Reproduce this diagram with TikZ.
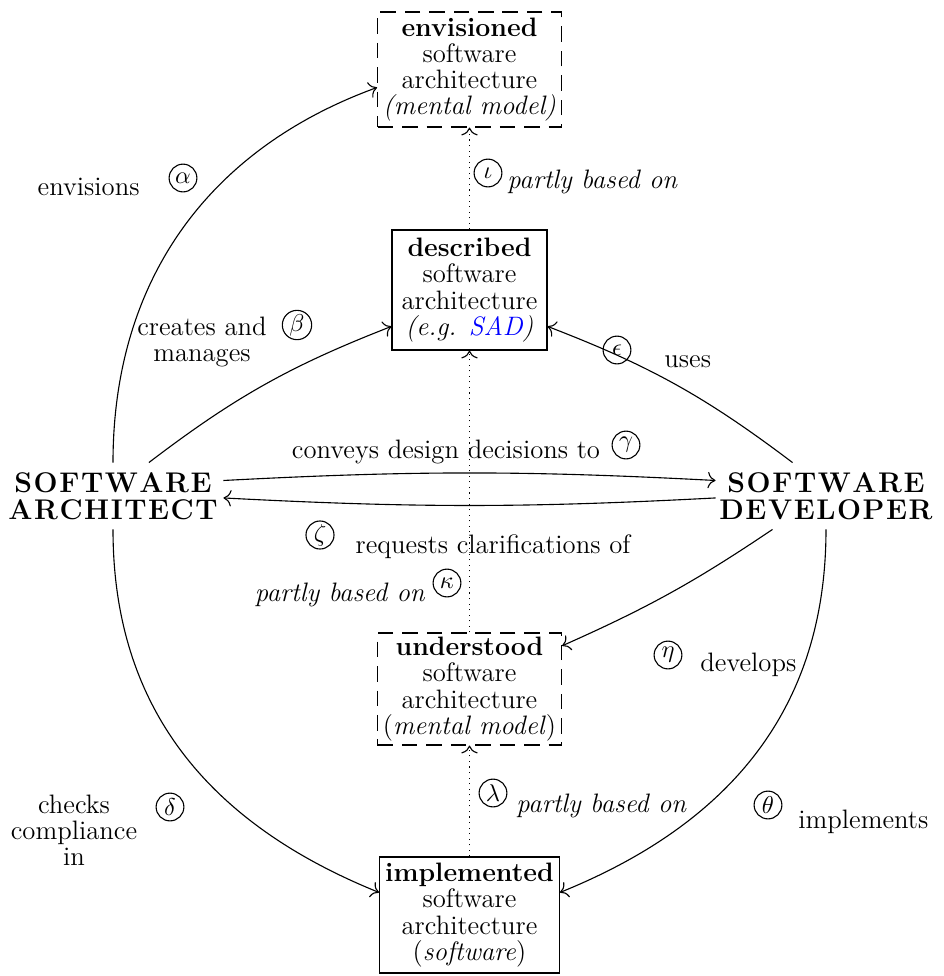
\documentclass[tikz,border=0pt]{standalone}
\usepackage{xcolor}
\usetikzlibrary{arrows.meta}

% letter-spaced capitals for the two roles
\def\lsloop#1{\ifx\relax#1\else\kern0.7pt#1\expandafter\lsloop\fi}
\newcommand\rolename[1]{\kern-0.7pt\lsloop#1\relax}

\begin{document}
\begin{tikzpicture}[x=0.45pt,y=0.45pt,
  >={To[scale=1.3]},
  txt/.style={font=\fontsize{12}{11.8}\selectfont, align=center, inner sep=0pt},
  itxt/.style={txt, font=\fontsize{12}{11.8}\selectfont\itshape},
  role/.style={align=center, font=\fontsize{12.8}{12}\selectfont\bfseries,
    minimum width=99pt, minimum height=29.7pt, inner sep=0pt},
  archbox/.style={txt, draw, inner ysep=1pt, inner xsep=2.5pt, line width=0.5pt},
  mentalbox/.style={archbox, dash pattern=on 7pt off 4pt},
  glyph/.style={circle, draw, inner sep=0.5pt, minimum size=12.5pt,
    font=\fontsize{10.5}{12}\selectfont, line width=0.5pt},
  conn/.style={->, line width=0.5pt},
  dep/.style={->, dotted, line width=0.5pt}]

\useasboundingbox (0,0) rectangle (944,-976);

% the two roles
\node[role] (arch) at (113,-496) {\rolename{SOFTWARE}\\\rolename{ARCHITECT}};
\node[role] (dev)  at (826,-496) {\rolename{SOFTWARE}\\\rolename{DEVELOPER}};

% the four kinds of architecture
\node[mentalbox, minimum width=78.75pt, minimum height=51.75pt] (env) at (469.5,-69.5)
  {\textbf{envisioned}\\software\\architecture\\\textit{(mental model)}};
\node[archbox, minimum width=69.75pt, minimum height=54pt] (desc) at (469.5,-290)
  {\textbf{described}\\software\\architecture\\\textit{(e.g. \textcolor{blue}{SAD})}};
\node[mentalbox, minimum width=80.1pt, minimum height=50.4pt] (und) at (469.5,-689)
  {\textbf{understood}\\software\\architecture\\(\textit{mental model})};
\node[archbox, minimum width=80.1pt, minimum height=52.2pt] (impl) at (469.5,-915)
  {\textbf{implemented}\\software\\architecture\\(\textit{software})};

% relations
\draw[conn] (arch.north) .. controls +(0,181) and +(-170,-62) .. (env.191);
\draw[conn] (arch.south) .. controls +(0,-181) and +(-168,68) .. (impl.166);
\draw[conn] (dev.south) .. controls +(0,-181) and +(168,68) .. (impl.14);
\draw[conn] (arch.43) to[bend left=8] (desc.205);
\draw[conn] (dev.135) to[bend right=8] (desc.335);
\draw[conn] (dev.212) to[bend left=5] (und.25);
\draw[conn] (arch.8) to[bend left=3] (dev.172);
\draw[conn] (dev.181) to[bend left=3] (arch.359);

\draw[dep] (desc.north) -- (env.south);
\draw[dep] (und.north) -- (desc.south);
\draw[dep] (impl.north) -- (und.south);

% labels
\node[txt, anchor=east] (lenv) at (140,-187) {envisions};
\node[glyph] (galpha) at (183,-178) {$\alpha$};
\node[txt] (lcre) at (202,-342) {creates and\\manages};
\node[glyph] (gbeta) at (297,-325) {$\beta$};
\node[txt] (lconv) at (446,-452) {conveys design decisions to};
\node[glyph] (ggamma) at (626,-445) {$\gamma$};
\node[glyph] (gzeta) at (320,-535) {$\zeta$};
\node[txt] (lreq) at (493,-547) {requests clarifications of};
\node[glyph] (geps) at (617,-350) {$\epsilon$};
\node[txt, anchor=west] (luses) at (664,-362) {uses};
\node[itxt, anchor=east] (lkap) at (425,-595) {partly based on};
\node[glyph] (gkappa) at (447,-583) {$\kappa$};
\node[glyph] (geta) at (668,-655) {$\eta$};
\node[txt, anchor=west] (ldev) at (700,-665) {develops};
\node[glyph] (giota) at (488,-173) {$\iota$};
\node[itxt, anchor=west] (liota) at (507,-182) {partly based on};
\node[glyph] (glambda) at (493,-793) {$\lambda$};
\node[itxt, anchor=west] (llam) at (516,-806) {partly based on};
\node[glyph] (gdelta) at (170,-807) {$\delta$};
\node[txt] (lchk) at (74,-830) {checks\\compliance\\in};
\node[glyph] (gtheta) at (768,-805) {$\theta$};
\node[txt, anchor=west] (limpl) at (798,-822) {implements};
\end{tikzpicture}
\end{document}
